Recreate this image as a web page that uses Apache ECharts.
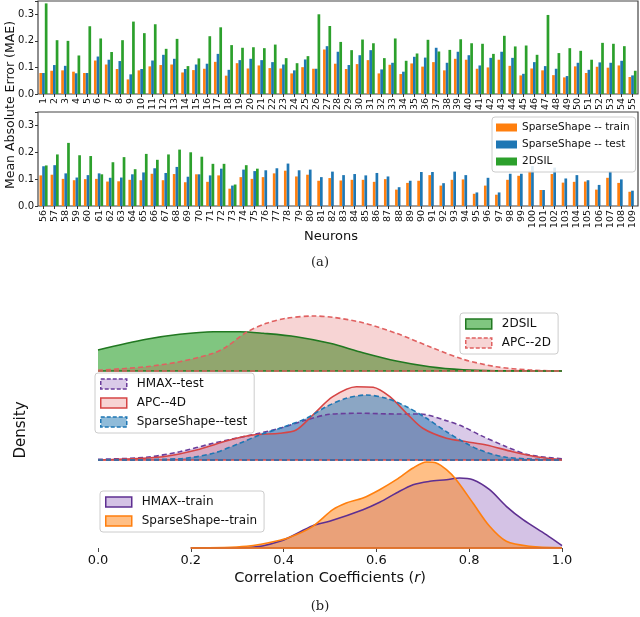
<!DOCTYPE html>
<html>
<head>
<meta charset="utf-8">
<script src="https://cdn.jsdelivr.net/npm/echarts@6.0.0/dist/echarts.min.js"></script>
<style>
html, body { margin: 0; padding: 0; background: #fff; }
#main { width: 640px; height: 617px; }
</style>
</head>
<body>
<div id="main"></div>
<script>
// ---- (a) mean absolute error per neuron ----
var neuronsTop = [];
var neuronsBot = [];
for (var n = 1; n <= 55; n++) neuronsTop.push(String(n));
for (var n = 56; n <= 109; n++) neuronsBot.push(String(n));

var trainTop = [0.079,0.0875,0.089,0.084,0.079,0.126,0.111,0.094,0.055,0.089,0.104,0.109,0.111,0.081,0.09,0.095,0.121,0.069,0.116,0.096,
    0.1075,0.0975,0.096,0.0775,0.101,0.095,0.1675,0.114,0.094,0.1125,0.1275,0.0775,0.11,0.075,0.115,0.103,0.12,0.089,0.1325,0.129,
    0.095,0.1,0.129,0.106,0.07,0.096,0.089,0.071,0.0625,0.104,0.079,0.1025,0.099,0.1075,0.064];
var testTop = [0.079,0.109,0.106,0.078,0.079,0.141,0.129,0.124,0.074,0.094,0.126,0.1475,0.1325,0.094,0.111,0.114,0.151,0.091,0.1275,0.1325,
    0.1275,0.12,0.111,0.089,0.13,0.095,0.18,0.159,0.109,0.146,0.165,0.0925,0.1175,0.084,0.14,0.137,0.174,0.1175,0.159,0.146,
    0.1075,0.136,0.159,0.136,0.076,0.12,0.105,0.095,0.0675,0.1175,0.091,0.119,0.1175,0.125,0.07];
var silTop = [0.341,0.2025,0.2,0.145,0.255,0.209,0.158,0.2025,0.2725,0.229,0.2625,0.17,0.2075,0.105,0.134,0.2175,0.251,0.184,0.174,0.176,
    0.1725,0.186,0.135,0.116,0.1425,0.30,0.256,0.196,0.165,0.205,0.191,0.135,0.209,0.125,0.1525,0.204,0.16,0.166,0.206,0.191,
    0.189,0.151,0.219,0.179,0.1825,0.1475,0.2975,0.154,0.1725,0.1625,0.129,0.1925,0.189,0.18,0.0875];

var trainBot = [0.114,0.1165,0.101,0.096,0.1,0.101,0.091,0.092,0.0975,0.096,0.12,0.096,0.119,0.0885,0.118,0.09,0.114,0.0645,0.1075,0.101,
    0.1075,0.1215,0.1315,0.11,0.1165,0.094,0.104,0.095,0.0975,0.0975,0.09,0.1,0.061,0.086,0.094,0.115,0.076,0.0975,0.099,0.0455,
    0.076,0.042,0.0975,0.1125,0.1315,0.0595,0.119,0.087,0.09,0.091,0.061,0.105,0.086,0.053];
var testBot = [0.148,0.152,0.1215,0.106,0.115,0.1215,0.105,0.106,0.118,0.125,0.1405,0.123,0.1455,0.109,0.118,0.114,0.139,0.076,0.1355,0.13,
    0.133,0.1405,0.158,0.133,0.1355,0.1075,0.128,0.115,0.119,0.114,0.123,0.11,0.07,0.094,0.1265,0.1265,0.085,0.128,0.115,0.0505,
    0.105,0.0505,0.12,0.12,0.149,0.0595,0.143,0.1025,0.115,0.096,0.0785,0.129,0.099,0.057];
// 2DSIL only reported for neurons 56-75
var silBot = [0.151,0.192,0.235,0.189,0.186,0.118,0.163,0.182,0.137,0.194,0.172,0.192,0.21,0.2,0.1835,0.157,0.157,0.08,0.152,0.139];

var maeTicks = [0, 0.1, 0.2, 0.3];

// ---- (b) density of correlation coefficients (ridge rows) ----
// row 1
var sil2dR = [0, 0.104, 0.176, 0.248, 0.305, 0.356, 0.427, 0.5, 0.571, 0.643, 0.715, 0.787, 0.858, 1.0];
var sil2dD = [21, 31.7, 36.7, 39.3, 39.3, 37.7, 34.3, 27.7, 18.3, 10, 4.3, 1.3, 0.3, 0];
var apc2dR = [0, 0.104, 0.176, 0.248, 0.277, 0.32, 0.363, 0.406, 0.463, 0.506, 0.571, 0.643, 0.715, 0.787, 0.858, 0.93, 1.0];
var apc2dD = [0.7, 4.3, 9.3, 17.7, 24.3, 38.7, 47.7, 52.7, 55, 53.7, 48.3, 37.7, 24.3, 11.7, 4.3, 1, 0];
// row 2
var hmaxTestR = [0, 0.104, 0.176, 0.248, 0.32, 0.392, 0.449, 0.499, 0.571, 0.643, 0.693, 0.751, 0.787, 0.823, 0.88, 0.93, 1.0];
var hmaxTestD = [0.7, 2.7, 8.3, 16.7, 24, 31.7, 40, 45.7, 46.7, 46, 46, 39.3, 33.3, 25, 13.3, 5, 1.3];
var apc4dR = [0, 0.14, 0.212, 0.284, 0.334, 0.392, 0.427, 0.463, 0.506, 0.557, 0.593, 0.629, 0.665, 0.7, 0.751, 0.794, 0.837, 0.894, 0.952, 1.0];
var apc4dD = [0, 3.3, 10, 20, 25, 26.7, 30, 45, 63.3, 73.3, 72.7, 63.3, 46.7, 31.7, 21.7, 18.3, 15, 8.3, 2.7, 0.3];
var ssTestR = [0, 0.176, 0.248, 0.305, 0.348, 0.392, 0.449, 0.492, 0.535, 0.578, 0.621, 0.665, 0.708, 0.751, 0.787, 0.823, 0.88, 1.0];
var ssTestD = [0, 1.3, 6.7, 16.7, 25, 31.7, 41.7, 53.3, 61.7, 65, 61.7, 53.3, 41.7, 28.3, 18.3, 10, 2.7, 0];
// row 3
var hmaxTrainR = [0.2, 0.32, 0.392, 0.463, 0.499, 0.571, 0.607, 0.643, 0.679, 0.715, 0.751, 0.779, 0.808, 0.844, 0.88, 0.916, 0.966, 1.0];
var hmaxTrainD = [0, 0.3, 6.7, 22.3, 26.7, 38.3, 45.7, 55, 63.3, 66.7, 68.3, 70, 68.3, 58.3, 41.7, 28.3, 13.3, 2.3];
var ssTrainR = [0.2, 0.32, 0.392, 0.427, 0.463, 0.506, 0.535, 0.571, 0.607, 0.643, 0.679, 0.708, 0.729, 0.751, 0.772, 0.808, 0.844, 0.88, 0.93, 1.0];
var ssTrainD = [0, 1.7, 7.7, 13.3, 21.7, 38.3, 45, 50, 58.3, 68.3, 80, 86, 85, 78.3, 68.3, 45, 21.7, 6.7, 1.7, 0.3];

var corrTicks = [0, 0.2, 0.4, 0.6, 0.8, 1.0];

var font = 'DejaVu Sans';
var ORANGE = '#ff7f0e', BLUE = '#1f77b4', GREEN = '#2ca02c';

function barSeries(name, data, idx, color) {
    return {
        type: 'bar', name: name, xAxisIndex: idx, yAxisIndex: idx,
        data: data, barWidth: 2.7, barGap: '0%',
        itemStyle: { color: color }
    };
}

function kde(name, r, d, idx, line, fill, dashed) {
    var pts = [];
    for (var i = 0; i < r.length; i++) pts.push([r[i], d[i]]);
    var ls = { color: line, width: 1.6, type: dashed ? [5, 3] : 'solid' };
    return {
        type: 'line', name: name, xAxisIndex: idx, yAxisIndex: idx,
        data: pts, smooth: 0.3, symbol: 'none', showSymbol: false,
        lineStyle: ls, itemStyle: { color: line },
        areaStyle: { color: fill, opacity: 1 },
        markLine: {
            silent: true, symbol: ['none', 'none'], label: { show: false },
            lineStyle: ls, emphasis: { disabled: true },
            data: [[{ coord: [r[0], 0] }, { coord: [r[r.length - 1], 0] }]]
        }
    };
}

function barX(cats, idx) {
    return {
        type: 'category', gridIndex: idx, data: cats,
        axisLine: { show: false },
        axisTick: { show: true, alignWithLabel: true, length: 3, lineStyle: { color: '#333' } },
        axisLabel: { interval: 0, rotate: 90, fontSize: 9.5, fontFamily: font, color: '#111', margin: 4, padding: [0, 0, 6, 0] }
    };
}
function barY(idx) {
    return {
        type: 'value', gridIndex: idx, min: 0, max: 0.35, interval: 0.1,
        splitLine: { show: false }, axisLine: { show: false },
        axisTick: { show: true, length: 3, lineStyle: { color: '#333' } },
        axisLabel: { fontSize: 10, fontFamily: font, color: '#111', margin: 4,
            formatter: function (v) { return maeTicks.indexOf(Math.round(v * 10) / 10) >= 0 ? v.toFixed(1) : ''; } }
    };
}
function rowX(idx, showLabels) {
    return {
        type: 'value', gridIndex: idx, min: 0, max: 1, interval: 0.2,
        show: true, splitLine: { show: false }, axisLine: { show: false },
        axisTick: { show: showLabels, length: 4, lineStyle: { color: '#444' } },
        axisLabel: { show: showLabels, fontSize: 13, fontFamily: font, color: '#111', margin: 6,
            formatter: function (v) { return corrTicks.indexOf(Math.round(v * 10) / 10) >= 0 ? v.toFixed(1) : ''; } }
    };
}
function rowY(idx) {
    return { type: 'value', gridIndex: idx, min: 0, max: 100, show: false };
}

function legItem(name, fill, border, dashed) {
    return { name: name, icon: 'rect',
        itemStyle: { color: fill, borderColor: border, borderWidth: 1.5, borderType: dashed ? [4, 2] : 'solid' } };
}
var legBase = {
    orient: 'vertical', selectedMode: false, backgroundColor: 'rgba(255,255,255,0.85)',
    borderColor: '#cccccc', borderWidth: 1, borderRadius: 3,
    itemWidth: 26, itemHeight: 10, itemGap: 7, padding: [5, 7, 5, 5],
    textStyle: { fontFamily: font, fontSize: 12, color: '#111', padding: [0, 0, 0, 5] }
};
function legend(extra) {
    var o = {};
    for (var k in legBase) o[k] = legBase[k];
    for (var k in extra) o[k] = extra[k];
    return o;
}

var myChart = echarts.init(document.getElementById('main'), null, { renderer: 'canvas' });

var option = {
    animation: false,
    backgroundColor: '#fff',
    grid: [
        { left: 38, right: 2, top: 1, height: 93, show: true, borderColor: '#444', borderWidth: 1.2 },
        { left: 38, right: 2, top: 112, height: 94, show: true, borderColor: '#444', borderWidth: 1.2 },
        { left: 98, right: 78, top: 271, height: 100 },
        { left: 98, right: 78, top: 360, height: 100 },
        { left: 98, right: 78, top: 448, height: 100 }
    ],
    xAxis: [barX(neuronsTop, 0), barX(neuronsBot, 1), rowX(2, false), rowX(3, false), rowX(4, true)],
    yAxis: [barY(0), barY(1), rowY(2), rowY(3), rowY(4)],
    legend: [
        legend({ left: 492, top: 117, itemWidth: 21, itemHeight: 8, itemGap: 6, padding: [5, 6, 5, 4],
            textStyle: { fontFamily: font, fontSize: 10.5, color: '#111' },
            data: [
                { name: 'SparseShape -- train', icon: 'rect', itemStyle: { color: ORANGE } },
                { name: 'SparseShape -- test', icon: 'rect', itemStyle: { color: BLUE } },
                { name: '2DSIL', icon: 'rect', itemStyle: { color: GREEN } }
            ] }),
        legend({ left: 460, top: 313,
            data: [
                legItem('2DSIL', 'rgba(44,160,44,0.6)', '#217821', false),
                legItem('APC--2D', 'rgba(214,39,40,0.2)', '#e06060', true)
            ] }),
        legend({ left: 95, top: 373,
            data: [
                legItem('HMAX--test', 'rgba(148,103,189,0.35)', '#6a3d9a', true),
                legItem('APC--4D', 'rgba(214,39,40,0.2)', '#d64545', false),
                legItem('SparseShape--test', 'rgba(31,119,180,0.5)', '#1f77b4', true)
            ] }),
        legend({ left: 100, top: 491,
            data: [
                legItem('HMAX--train', 'rgba(148,103,189,0.4)', '#5e2f91', false),
                legItem('SparseShape--train', 'rgba(255,127,14,0.5)', '#ff7f0e', false)
            ] })
    ],
    series: [
        barSeries('SparseShape -- train', trainTop, 0, ORANGE),
        barSeries('SparseShape -- test', testTop, 0, BLUE),
        barSeries('2DSIL', silTop, 0, GREEN),
        barSeries('SparseShape -- train', trainBot, 1, ORANGE),
        barSeries('SparseShape -- test', testBot, 1, BLUE),
        barSeries('2DSIL', silBot, 1, GREEN),

        kde('2DSIL', sil2dR, sil2dD, 2, '#217821', 'rgba(44,160,44,0.6)', false),
        kde('APC--2D', apc2dR, apc2dD, 2, '#e06060', 'rgba(214,39,40,0.2)', true),
        kde('HMAX--test', hmaxTestR, hmaxTestD, 3, '#6a3d9a', 'rgba(148,103,189,0.35)', true),
        kde('APC--4D', apc4dR, apc4dD, 3, '#d64545', 'rgba(214,39,40,0.2)', false),
        kde('SparseShape--test', ssTestR, ssTestD, 3, '#1f77b4', 'rgba(31,119,180,0.5)', true),
        kde('HMAX--train', hmaxTrainR, hmaxTrainD, 4, '#5e2f91', 'rgba(148,103,189,0.4)', false),
        kde('SparseShape--train', ssTrainR, ssTrainD, 4, '#ff7f0e', 'rgba(255,127,14,0.5)', false)
    ],
    graphic: [
        { type: 'text', x: 11, y: 105, rotation: Math.PI / 2,
          style: { text: 'Mean Absolute Error (MAE)', font: '12.5px "DejaVu Sans"', fill: '#111', align: 'center', verticalAlign: 'middle' } },
        { type: 'text', x: 331, y: 237,
          style: { text: 'Neurons', font: '13px "DejaVu Sans"', fill: '#111', align: 'center', verticalAlign: 'middle' } },
        { type: 'text', x: 320, y: 263,
          style: { text: '(a)', font: '13px "DejaVu Serif"', fill: '#222', align: 'center', verticalAlign: 'middle' } },
        { type: 'text', x: 21, y: 430, rotation: Math.PI / 2,
          style: { text: 'Density', font: '15px "DejaVu Sans"', fill: '#111', align: 'center', verticalAlign: 'middle' } },
        { type: 'text', x: 330, y: 578,
          style: { text: 'Correlation Coefficients ({i|r})', font: '14.5px "DejaVu Sans"', fill: '#111', align: 'center', verticalAlign: 'middle',
                   rich: { i: { fontStyle: 'italic', fontSize: 14.5, fontFamily: 'DejaVu Sans' } } } },
        { type: 'text', x: 320, y: 607,
          style: { text: '(b)', font: '13px "DejaVu Serif"', fill: '#222', align: 'center', verticalAlign: 'middle' } }
    ]
};

myChart.setOption(option);
</script>
</body>
</html>
